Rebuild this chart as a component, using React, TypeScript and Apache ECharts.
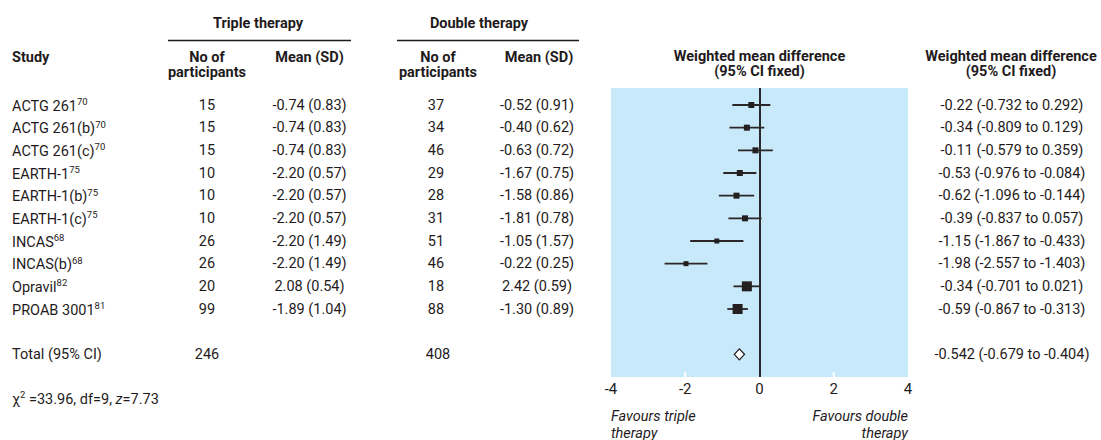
import React, { useEffect, useRef } from "react";
import * as echarts from "echarts";

const studies = ["ACTG 261", "ACTG 261(b)", "ACTG 261(c)", "EARTH-1", "EARTH-1(b)", "EARTH-1(c)", "INCAS", "INCAS(b)", "Opravil", "PROAB 3001"];
const refs = ["70", "70", "70", "75", "75", "75", "68", "68", "82", "81"];
const tripleN = [15, 15, 15, 10, 10, 10, 26, 26, 20, 99];
const tripleMean = [-0.74, -0.74, -0.74, -2.2, -2.2, -2.2, -2.2, -2.2, 2.08, -1.89];
const tripleSD = [0.83, 0.83, 0.83, 0.57, 0.57, 0.57, 1.49, 1.49, 0.54, 1.04];
const doubleN = [37, 34, 46, 29, 28, 31, 51, 46, 18, 88];
const doubleMean = [-0.52, -0.4, -0.63, -1.67, -1.58, -1.81, -1.05, -0.22, 2.42, -1.3];
const doubleSD = [0.91, 0.62, 0.72, 0.75, 0.86, 0.78, 1.57, 0.25, 0.59, 0.89];
const wmd = [-0.22, -0.34, -0.11, -0.53, -0.62, -0.39, -1.15, -1.98, -0.34, -0.59];
const ciLow = [-0.732, -0.809, -0.579, -0.976, -1.096, -0.837, -1.867, -2.557, -0.701, -0.867];
const ciHigh = [0.292, 0.129, 0.359, -0.084, -0.144, 0.057, -0.433, -1.403, 0.021, -0.313];
// relative study weight as drawn (box side)
const weightBox = [6, 6, 6, 6, 6, 6, 5, 5, 10, 10];

const totalLabel = "Total (95% CI)";
const totalTripleN = 246;
const totalDoubleN = 408;
const pooled = -0.542;
const pooledLow = -0.679;
const pooledHigh = -0.404;
const totalRow = 11;

const chi2 = 33.96;
const df = 9;
const zStat = 7.73;

const xTicks = [-4, -2, 0, 2, 4];
const yMin = -0.75;
const yMax = 12;

export default function App() {
  const ref = useRef<HTMLDivElement>(null);

  useEffect(() => {
    document.body.style.margin = "0";
    const chart = echarts.init(ref.current!, null, { renderer: "svg" });
    const FONT = 'Roboto, "Liberation Sans", sans-serif';
    const TXT = "#1f1b1c";
    const FS = 14.5;

    // inner tick marks (white, inside the plot) at the non-edge, non-zero ticks
    const innerTicks = xTicks.filter((v, k) => k > 0 && k < xTicks.length - 1 && v !== 0);

    chart.setOption({
      animation: false,
      grid: {
        left: 611,
        right: 193,
        top: 88,
        bottom: 63,
        show: true,
        backgroundColor: "#c8e9f9",
        borderWidth: 0,
      },
      xAxis: {
        type: "value",
        position: "bottom",
        min: xTicks[0],
        max: xTicks[xTicks.length - 1],
        interval: 2,
        axisLine: { show: false, onZero: false },
        splitLine: { show: false },
        axisTick: { show: false },
        axisLabel: { fontSize: 15, color: TXT, fontFamily: FONT, margin: 4 },
      },
      yAxis: { type: "value", inverse: true, min: yMin, max: yMax, show: false },
      series: [
        {
          type: "custom",
          name: "studies",
          data: studies.map((_, i) => [wmd[i], i, ciLow[i], ciHigh[i], weightBox[i]]),
          encode: { x: 0, y: 1 },
          renderItem: (params: any, api: any) => {
            const i = api.value(1);
            const c = api.coord([api.value(0), i]);
            const l = api.coord([api.value(2), i]);
            const h = api.coord([api.value(3), i]);
            const s = api.value(4);
            return {
              type: "group",
              children: [
                {
                  type: "line",
                  shape: { x1: l[0], y1: c[1], x2: h[0], y2: c[1] },
                  style: { stroke: "#2a2627", lineWidth: 1.8 },
                },
                {
                  type: "rect",
                  shape: { x: c[0] - s / 2, y: c[1] - s / 2, width: s, height: s },
                  style: { fill: "#231f20" },
                },
              ],
            };
          },
          markLine: {
            silent: true,
            symbol: "none",
            label: { show: false },
            lineStyle: { color: "#2b2b2b", width: 2, type: "solid" },
            data: [{ xAxis: 0 }],
          },
          z: 3,
        },
        {
          type: "custom",
          name: "pooled",
          data: [[pooled, totalRow, pooledLow, pooledHigh]],
          encode: { x: 0, y: 1 },
          renderItem: (params: any, api: any) => {
            const r = api.value(1);
            const c = api.coord([api.value(0), r]);
            const l = api.coord([api.value(2), r]);
            const h = api.coord([api.value(3), r]);
            const hh = 5.5;
            return {
              type: "polygon",
              shape: {
                points: [
                  [l[0], c[1]],
                  [c[0], c[1] - hh],
                  [h[0], c[1]],
                  [c[0], c[1] + hh],
                ],
              },
              style: { fill: "#ffffff", stroke: "#231f20", lineWidth: 1.3 },
            };
          },
          z: 4,
        },
      ],
    });

    const yOf = (i: number) => chart.convertToPixel({ yAxisIndex: 0 }, i) as number;
    const xOf = (v: number) => chart.convertToPixel({ xAxisIndex: 0 }, v) as number;

    const rich = {
      n: { fontSize: FS, fontFamily: FONT, fill: TXT, lineHeight: 17, verticalAlign: "bottom" },
      s: { fontSize: 9.5, fontFamily: FONT, fill: TXT, lineHeight: 9, verticalAlign: "top" },
      i: { fontSize: FS, fontFamily: FONT, fill: TXT, fontStyle: "italic", lineHeight: 17, verticalAlign: "bottom" },
    };

    const txt = (x: number, y: number, text: string, align = "center", extra: any = {}) => ({
      type: "text",
      x,
      y,
      silent: true,
      style: {
        text,
        x: 0,
        y: 0,
        fontSize: FS,
        fontFamily: FONT,
        fill: TXT,
        align,
        verticalAlign: "middle",
        ...extra,
      },
    });
    const bold = { fontWeight: "bold" };
    const fmt2 = (v: number) => v.toFixed(2);
    const fmt3 = (v: number) => v.toFixed(3);

    const g: any[] = [];
    // inner white ticks
    const yBottom = yOf(yMax);
    innerTicks.forEach((v) => {
      const x = xOf(v);
      g.push({
        type: "line",
        silent: true,
        shape: { x1: x, y1: yBottom, x2: x, y2: yBottom - 5 },
        style: { stroke: "#ffffff", lineWidth: 2 },
        z: 10,
      });
    });
    // headers
    g.push(txt(258, 23, "Triple therapy", "center", bold));
    g.push(txt(479, 23, "Double therapy", "center", bold));
    g.push({ type: "line", shape: { x1: 168, y1: 40.5, x2: 351, y2: 40.5 }, style: { stroke: TXT, lineWidth: 1.3 } });
    g.push({ type: "line", shape: { x1: 397, y1: 40.5, x2: 579, y2: 40.5 }, style: { stroke: TXT, lineWidth: 1.3 } });
    g.push(txt(12, 57, "Study", "left", bold));
    g.push(txt(207, 57, "No of", "center", bold));
    g.push(txt(207, 72, "participants", "center", bold));
    g.push(txt(309.5, 57, "Mean (SD)", "center", bold));
    g.push(txt(438, 57, "No of", "center", bold));
    g.push(txt(438, 72, "participants", "center", bold));
    g.push(txt(539, 57, "Mean (SD)", "center", bold));
    g.push(txt(759.5, 56, "Weighted mean difference", "center", bold));
    g.push(txt(759.5, 71, "(95% CI fixed)", "center", bold));
    g.push(txt(1011, 56, "Weighted mean difference", "center", bold));
    g.push(txt(1011, 71, "(95% CI fixed)", "center", bold));

    // rows
    studies.forEach((name, i) => {
      const y = yOf(i);
      g.push(txt(12, y, `{n|${name}}{s|${refs[i]}}`, "left", { rich }));
      g.push(txt(207, y, String(tripleN[i])));
      g.push(txt(309.5, y, `${fmt2(tripleMean[i])} (${fmt2(tripleSD[i])})`));
      g.push(txt(436, y, String(doubleN[i])));
      g.push(txt(537, y, `${fmt2(doubleMean[i])} (${fmt2(doubleSD[i])})`));
      g.push(txt(1012, y, `${fmt2(wmd[i])} (${fmt3(ciLow[i])} to ${fmt3(ciHigh[i])})`));
    });
    const ty = yOf(totalRow);
    g.push(txt(12, ty, totalLabel, "left"));
    g.push(txt(207, ty, String(totalTripleN)));
    g.push(txt(438, ty, String(totalDoubleN)));
    g.push(txt(1012, ty, `${fmt3(pooled)} (${fmt3(pooledLow)} to ${fmt3(pooledHigh)})`));

    // footer
    g.push(txt(12, 398, `{n|χ}{s|2}{n| =${chi2.toFixed(2)}, df=${df}, }{i|z}{n|=${zStat.toFixed(2)}}`, "left", { rich }));
    g.push(txt(611, 416, "Favours triple", "left", { fontStyle: "italic" }));
    g.push(txt(611, 433, "therapy", "left", { fontStyle: "italic" }));
    g.push(txt(908, 416, "Favours double", "right", { fontStyle: "italic" }));
    g.push(txt(908, 433, "therapy", "right", { fontStyle: "italic" }));

    chart.setOption({ graphic: { elements: g } });

    return () => chart.dispose();
  }, []);

  return <div ref={ref} style={{ width: 1101, height: 440 }} />;
}
